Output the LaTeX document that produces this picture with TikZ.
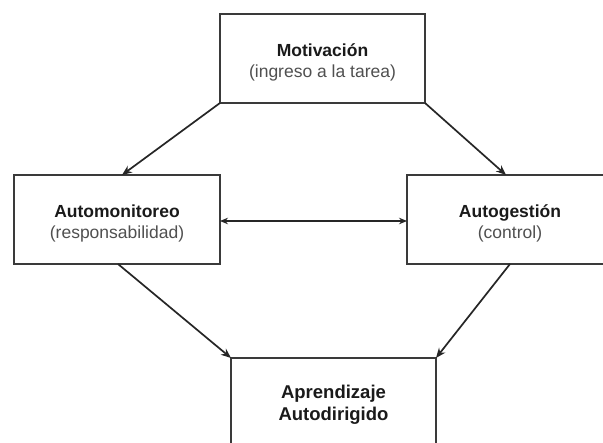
\documentclass[tikz,border=0pt]{standalone}
\usepackage{fontspec}
\setmainfont{Liberation Sans}
\usetikzlibrary{arrows.meta,calc}
\definecolor{boxline}{HTML}{3A3A3A}
\definecolor{arrowline}{HTML}{262626}
\definecolor{titletext}{HTML}{1A1A1A}
\definecolor{subtext}{HTML}{505050}
\begin{document}
\begin{tikzpicture}[x=1pt,y=-1pt,
  box/.style={draw=boxline,line width=1.8pt,rectangle,inner sep=0pt,outer sep=0pt,fill=white},
  txt/.style={align=center,inner sep=0pt,font=\fontsize{17.5}{21.5}\selectfont},
  arr/.style={draw=arrowline,line width=1.7pt,-{Stealth[length=10pt,width=8pt]}},
  darr/.style={draw=arrowline,line width=1.6pt,{Stealth[length=8pt,width=6.5pt]}-{Stealth[length=8pt,width=6.5pt]}}
]
\clip (0,0) rectangle (603,443);
\useasboundingbox (0,0) rectangle (603,443);
\fill[white] (0,0) rectangle (603,443);

\node[box,minimum width=205pt,minimum height=89pt] (top) at (322.5,58.5) {};
\node[box,minimum width=206pt,minimum height=89pt] (left) at (117,219.5) {};
\node[box,minimum width=206pt,minimum height=89pt] (right) at (510,219.5) {};
\node[box,minimum width=205pt,minimum height=94pt] (bottom) at (333.5,405) {};

\node[txt] (toptxt) at ([yshift=-4pt]top.center) {{\bfseries\color{titletext}Motivación}\\ \color{subtext}(ingreso a la tarea)};
\node[txt] (lefttxt) at ([yshift=-4pt]left.center) {{\bfseries\color{titletext}Automonitoreo}\\ \color{subtext}(responsabilidad)};
\node[txt] (righttxt) at ([yshift=-4pt]right.center) {{\bfseries\color{titletext}Autogestión}\\ \color{subtext}(control)};
\node[txt,text=titletext,font=\fontsize{18.5}{22.5}\selectfont\bfseries] (bottomtxt) at (333.5,405) {Aprendizaje\\Autodirigido};

\draw[arr] (top.south west) -- ([xshift=108pt]left.north west);
\draw[arr] (top.south east) -- ([xshift=99pt]right.north west);
\draw[arr] ([xshift=104pt]left.south west) -- (bottom.north west);
\draw[arr] ([xshift=103pt]right.south west) -- (bottom.north east);
\draw[darr] ([yshift=-1.5pt]left.east) -- ([yshift=-1.5pt]right.west);
\end{tikzpicture}
\end{document}
